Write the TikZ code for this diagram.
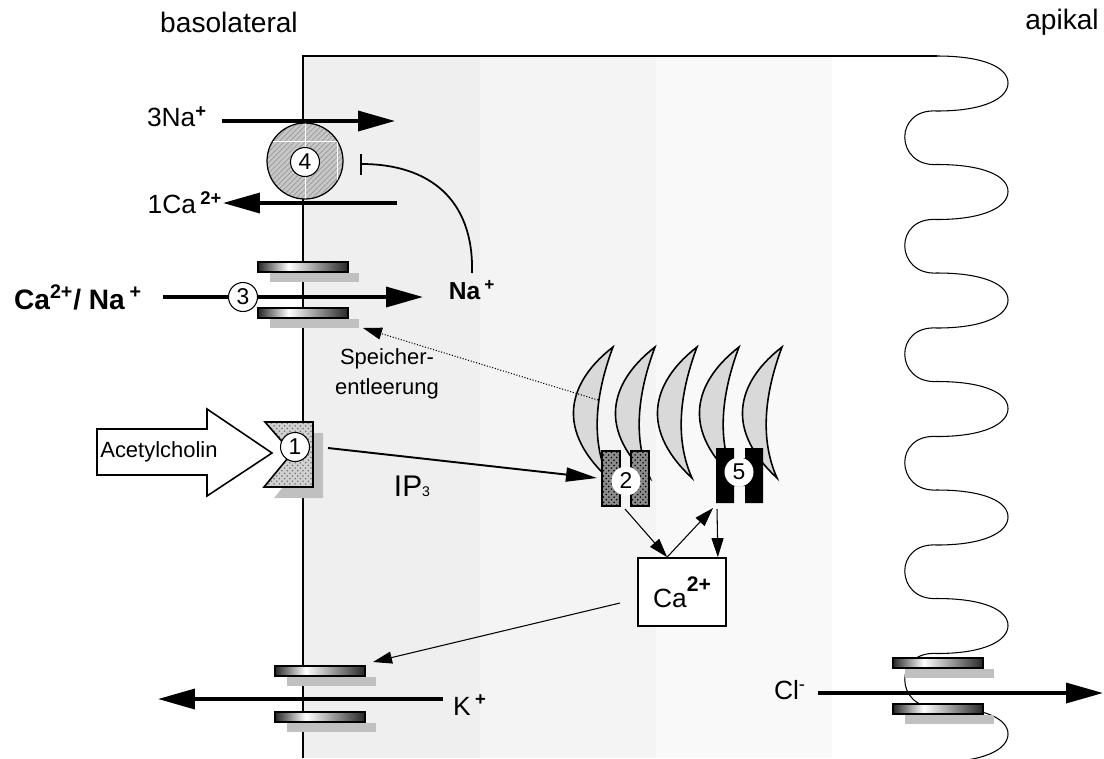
\documentclass[tikz,border=0pt]{standalone}
\usepackage{fontspec}
\setmainfont{Liberation Sans}
\usetikzlibrary{arrows.meta, positioning, calc, patterns}

\definecolor{bandA}{HTML}{EFEFEF}
\definecolor{bandB}{HTML}{F4F4F4}
\definecolor{bandC}{HTML}{F9F9F9}
\definecolor{shadowgray}{HTML}{C0C0C0}
\definecolor{ergray}{HTML}{D9D9D9}

% metallic look of the channel plates
\pgfdeclarehorizontalshading{platesh}{100bp}{color(0bp)=(black!85); color(25bp)=(black!85); color(42bp)=(white); color(75bp)=(black!85); color(100bp)=(black!85)}

\tikzset{
  flux/.style={line width=2pt, -{Triangle[length=0.74cm, width=0.4cm]}},
  signal/.style={line width=1.1pt, -{Triangle[length=0.62cm, width=0.28cm]}},
  fine/.style={line width=0.6pt, -{Triangle[length=0.38cm, width=0.24cm]}},
  numcirc/.style={circle, draw, line width=0.6pt, fill=white, inner sep=0pt, minimum size=0.58cm, font=\fontsize{13}{13}\selectfont},
  plate/.style={draw, line width=0.9pt, shading=platesh},
  ion/.style={font=\fontsize{15}{15}\selectfont, inner sep=0pt},
  boldion/.style={font=\bfseries\fontsize{15}{15}\selectfont, inner sep=0pt},
  crescent/.style={draw, line width=0.9pt, fill=ergray},
  pumpfill/.style={preaction={fill=black!22}, pattern=north east lines, pattern color=black!40},
  chtwo/.style={preaction={fill=black!45}, pattern=crosshatch dots, pattern color=black},
}

% one channel plate with its shadow, given by its upper left corner
\newcommand{\plate}[2]{%
  \fill[shadowgray] (#1+12,#2+11) rectangle ++(89,9);
  \draw[plate] (#1,#2) rectangle ++(90,10);}

\begin{document}
\begin{tikzpicture}[x=0.02cm, y=-0.02cm]
\useasboundingbox (0,0) rectangle (1104,758);

% cytoplasm, three shades from basolateral to apical
\fill[bandA] (303,56) rectangle (480,758);
\fill[bandB] (480,56) rectangle (656,758);
\fill[bandC] (656,56) rectangle (832,758);

% basolateral membrane and upper cell border
\draw[line width=0.6pt] (303,758) -- (303,56) -- (937,56);

% apical membrane with microvilli
\begin{scope}
  \clip (840,40) rectangle (1104,758);
  \foreach \k [evaluate=\k as \y using 56+108.5*\k] in {0,...,6}
    \draw[line width=0.6pt] (937,\y) .. controls (985,\y) and (1008,\y+12) .. (1008,\y+27)
      .. controls (1008,\y+42) and (985,\y+55) .. (937,\y+55)
      .. controls (893,\y+52) and (895,\y+111) .. (937,\y+108.5);
\end{scope}

\node[font=\fontsize{16}{16}\selectfont] (baso) at (229,22) {basolateral};
\node[font=\fontsize{16}{16}\selectfont] (apik) at (1062,22) {apikal};

% Na/Ca exchanger
\node[circle, draw, line width=0.7pt, pumpfill, minimum size=1.52cm] (pump) at (305,161) {};
\begin{scope}
  \clip (pump.center) circle[radius=0.75cm];
  \draw[white, line width=0.5pt] (305,110) -- (305,210) (337,110) -- (337,210) (260,141) -- (345,141);
\end{scope}
\node[numcirc] (n4) at (305,162) {4};
\node[ion] (na3) at (177,117) {3Na\textsuperscript{\textbf{+}}};
\node[ion] (ca1) at (185,203) {1Ca\,\textsuperscript{\textbf{2+}}};
\coordinate (na3a) at (222,121);
\coordinate (na3b) at (395,121);
\coordinate (ca1a) at (397,203);
\coordinate (ca1b) at (223,203);
\draw[flux] (na3a) -- (na3b);
\draw[flux] (ca1a) -- (ca1b);

% Ca/Na channel
\plate{258}{262}
\plate{258}{308}
\node[boldion, font=\bfseries\fontsize{16}{16}\selectfont] (cana) at (78,297) {Ca\textsuperscript{2+}/ Na\,\textsuperscript{+}};
\coordinate (canaa) at (163,297);
\coordinate (canab) at (423,297);
\draw[flux] (canaa) -- (canab);
\node[numcirc] (n3) at (243,297) {3};
\node[boldion, font=\bfseries\fontsize{14}{14}\selectfont] (naplus) at (472,290) {Na\,\textsuperscript{+}};
\coordinate (nacurve) at (472,273);
\coordinate (n4stop) at (360,164);
\draw[line width=1pt, -{Bar[width=0.42cm]}] (nacurve) .. controls (474,200) and (430,164) .. (n4stop);

% receptor
\fill[shadowgray] (275,433) -- (323,433) -- (323,498) -- (274,498) -- (302,464) -- cycle;
\draw[line width=0.9pt, preaction={fill=black!18}, pattern=crosshatch dots, pattern color=black!55]
  (265,422) -- (313,422) -- (313,487) -- (264,487) -- (292,453) -- cycle;
\node[numcirc] (n1) at (295,447) {1};

% transmitter arrow
\draw[line width=0.9pt, fill=white] (97,429) -- (207,429) -- (207,409) -- (272,453) -- (207,496) -- (207,475) -- (97,475) -- cycle;
\node[anchor=west, font=\fontsize{12.5}{12.5}\selectfont, inner sep=0pt] (ach) at (100,452) {Acetylcholin};

% endoplasmic reticulum
\foreach \tx in {613,655,697,739,782}
  \draw[crescent] (\tx,347) .. controls (\tx-40,378) and (\tx-62,425) .. (\tx-5,478)
    .. controls (\tx-22,440) and (\tx-18,395) .. (\tx,347) -- cycle;

% IP3 receptor and second release channel
\draw[chtwo, draw, line width=0.8pt] (602,451) rectangle (620,506);
\draw[chtwo, draw, line width=0.8pt] (631,451) rectangle (649,506);
\fill[chtwo] (620,468) rectangle (631,494);
\node[numcirc, draw=none] (n2) at (626,481) {2};
\fill (716,448) rectangle (734,503) (745,448) rectangle (763,503) (734,458) rectangle (745,486);
\node[numcirc, draw=none] (n5) at (739,472) {5};

\coordinate (ip3a) at (328,448);
\coordinate (ip3b) at (597,478);
\draw[signal] (ip3a) -- (ip3b);
\node[font=\fontsize{17}{17}\selectfont] (ip3) at (412,486) {IP{\fontsize{8}{8}\selectfont 3}};

% store depletion
\node[align=center, font=\fontsize{12.5}{17}\selectfont] (speicher) at (387,374) {Speicher-\\entleerung};
\coordinate (erleak) at (598,400);
\coordinate (plategap) at (363,328);
\draw[fine, densely dotted] (erleak) -- (plategap);

% cytosolic calcium
\node[draw, line width=1pt, fill=white, minimum width=1.76cm, minimum height=1.36cm, inner sep=0pt,
  font=\fontsize{15}{15}\selectfont] (cabox) at (682,592) {Ca\raisebox{0.6em}{\bfseries\fontsize{12}{12}\selectfont 2+}};
\coordinate (ch2out) at (625,509);
\coordinate (ch5in) at (713,508);
\coordinate (ch5out) at (717,509);
\draw[fine] (ch2out) -- ([xshift=0.6cm]cabox.north west);
\draw[fine] ([xshift=0.6cm]cabox.north west) -- (ch5in);
\draw[fine] (ch5out) -- ([xshift=-0.18cm]cabox.north east);

% K channel
\plate{275}{666}
\plate{275}{712}
\coordinate (cakout) at (620,603);
\coordinate (kgap) at (373,662);
\draw[fine] (cakout) -- (kgap);
\coordinate (kin) at (443,699);
\coordinate (kout) at (158,699);
\draw[flux] (kin) -- (kout);
\node[ion] (kion) at (470,705) {K\,\textsuperscript{\textbf{+}}};

% Cl channel
\plate{893}{658}
\plate{893}{704}
\coordinate (clin) at (818,693);
\coordinate (clout) at (1103,693);
\draw[flux] (clin) -- (clout);
\node[ion] (clion) at (790,690) {Cl\textsuperscript{-}};
\end{tikzpicture}
\end{document}
